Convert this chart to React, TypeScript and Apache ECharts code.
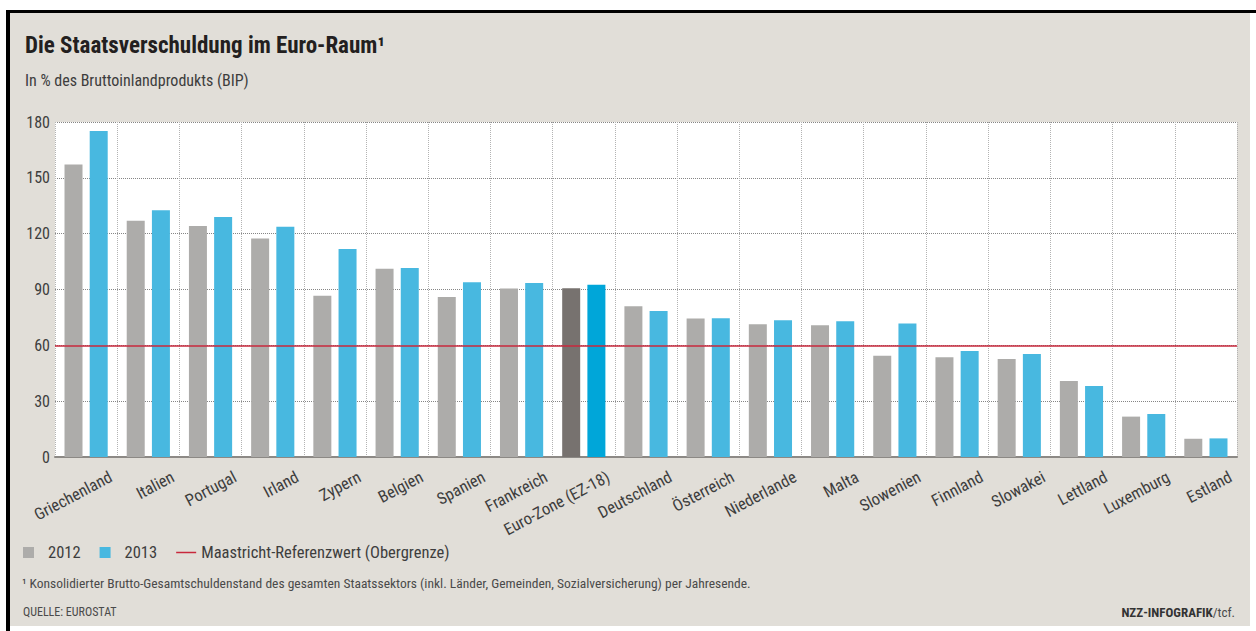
import React, { useEffect, useRef } from "react";
import * as echarts from "echarts";

const categories = [
  "Griechenland", "Italien", "Portugal", "Irland", "Zypern", "Belgien", "Spanien",
  "Frankreich", "Euro-Zone (EZ-18)", "Deutschland", "Österreich", "Niederlande",
  "Malta", "Slowenien", "Finnland", "Slowakei", "Lettland", "Luxemburg", "Estland",
];
const values2012 = [157.2, 127.0, 124.1, 117.4, 86.6, 101.1, 86.0, 90.6, 90.7, 81.0, 74.4, 71.3, 70.8, 54.4, 53.6, 52.7, 40.8, 21.7, 9.8];
const values2013 = [175.1, 132.6, 129.0, 123.7, 111.7, 101.5, 93.9, 93.5, 92.6, 78.4, 74.5, 73.5, 73.0, 71.7, 57.0, 55.4, 38.1, 23.1, 10.0];
const highlightCategory = "Euro-Zone (EZ-18)";
const referenceValue = 60;
const referenceName = "Maastricht-Referenzwert (Obergrenze)";
const yMin = 0;
const yMax = 180;
const yInterval = 30;

const titleText = "Die Staatsverschuldung im Euro-Raum¹";
const subtitleText = "In % des Bruttoinlandprodukts (BIP)";
const footnoteText = "¹ Konsolidierter Brutto-Gesamtschuldenstand des gesamten Staatssektors (inkl. Länder, Gemeinden, Sozialversicherung) per Jahresende.";
const sourceText = "QUELLE: EUROSTAT";

const FONT = "'Roboto Condensed', 'Liberation Sans Narrow', 'Arial Narrow', 'Nimbus Sans Narrow', Roboto, sans-serif";
const GRAY = "#adacaa";
const GRAY_HL = "#77726f";
const BLUE = "#48b8e0";
const BLUE_HL = "#00a6d9";
const RED = "#c8283c";
const TEXT = "#3d3d3d";

export default function App() {
  const ref = useRef<HTMLDivElement>(null);

  useEffect(() => {
    if (!ref.current) return;
    const chart = echarts.init(ref.current, undefined, { renderer: "svg" });
    // square swatch on the left of a 20x11 icon box (invisible zero-area point keeps the box width)
    const squareIcon = "path://M0,0h11v11h-11zM20,0h0.01";
    const lineIcon = "path://M0,0h20v1.5h-20z";
    const option: any = {
      animation: false,
      backgroundColor: "#ffffff",
      title: {
        left: 20,
        top: 28,
        text: titleText,
        subtext: subtitleText,
        itemGap: 15,
        textStyle: { fontFamily: FONT, fontSize: 23, fontWeight: "bold", color: "#231f20", lineHeight: 24 },
        subtextStyle: { fontFamily: FONT, fontSize: 16, color: TEXT, lineHeight: 17 },
      },
      legend: {
        left: 23,
        top: 544,
        padding: 0,
        itemWidth: 20,
        itemHeight: 11,
        itemGap: 19,
        selectedMode: false,
        textStyle: { fontFamily: FONT, fontSize: 16.5, color: TEXT },
        data: [
          { name: "2012", icon: squareIcon },
          { name: "2013", icon: squareIcon },
          { name: referenceName, icon: lineIcon },
        ],
      },
      grid: {
        left: 55,
        right: 19,
        top: 122,
        bottom: 174,
        show: true,
        backgroundColor: "#ffffff",
        borderWidth: 0,
        containLabel: false,
        outerBoundsMode: "none",
      },
      xAxis: {
        type: "category",
        data: categories,
        axisLine: { lineStyle: { color: "#8c8985", width: 2 } },
        axisTick: { show: false },
        axisLabel: {
          interval: 0,
          rotate: 28,
          margin: 32,
          padding: [0, -28, 0, 0],
          fontSize: 16.5,
          fontFamily: FONT,
          color: TEXT,
        },
        splitLine: { show: true, interval: 0, lineStyle: { type: "dotted", color: "#b3b3b3", width: 1 } },
      },
      yAxis: {
        type: "value",
        min: yMin,
        max: yMax,
        interval: yInterval,
        axisLine: { show: false },
        axisTick: { show: false },
        axisLabel: { margin: 5, fontSize: 16, fontFamily: FONT, color: TEXT },
        splitLine: { lineStyle: { type: "dotted", color: "#858585", width: 1 } },
      },
      series: [
        {
          name: "2012",
          type: "bar",
          barWidth: 18,
          barGap: "40%",
          itemStyle: { color: GRAY },
          data: values2012.map((v, i) =>
            categories[i] === highlightCategory ? { value: v, itemStyle: { color: GRAY_HL } } : v
          ),
        },
        {
          name: "2013",
          type: "bar",
          barWidth: 18,
          barGap: "40%",
          itemStyle: { color: BLUE },
          data: values2013.map((v, i) =>
            categories[i] === highlightCategory ? { value: v, itemStyle: { color: BLUE_HL } } : v
          ),
          markLine: {
            silent: true,
            symbol: ["none", "none"],
            label: { show: false },
            lineStyle: { color: RED, width: 1.5, type: "solid" },
            data: [{ yAxis: referenceValue }],
          },
        },
        {
          name: referenceName,
          type: "line",
          data: [],
          itemStyle: { color: RED },
          lineStyle: { color: RED },
        },
      ],
      graphic: [
        { type: "rect", z: -10, silent: true, shape: { x: 10, y: 13, width: 1240, height: 613 }, style: { fill: "#e1ded8" } },
        { type: "rect", z: -10, silent: true, shape: { x: 6, y: 10, width: 1250, height: 3 }, style: { fill: "#000000" } },
        { type: "rect", z: -10, silent: true, shape: { x: 6, y: 10, width: 4, height: 621 }, style: { fill: "#000000" } },
        {
          type: "text", x: 22, y: 583, silent: true,
          style: { text: footnoteText, fontFamily: FONT, fontSize: 13.5, fill: "#4a4a4a", verticalAlign: "middle" },
        },
        {
          type: "text", x: 23, y: 612, silent: true,
          style: { text: sourceText, fontFamily: FONT, fontSize: 12, fill: "#4a4a4a", verticalAlign: "middle" },
        },
        {
          type: "text", x: 1235, y: 612, silent: true,
          style: {
            text: "{b|NZZ-INFOGRAFIK}/tcf.",
            fontFamily: FONT, fontSize: 13, fill: "#4a4a4a", align: "right", verticalAlign: "middle",
            rich: { b: { fontFamily: FONT, fontSize: 13, fontWeight: "bold", fill: "#333333" } },
          },
        },
      ],
    };
    chart.setOption(option);
    return () => chart.dispose();
  }, []);

  return <div ref={ref} style={{ position: "fixed", left: 0, top: 0, width: 1256, height: 631 }} />;
}
